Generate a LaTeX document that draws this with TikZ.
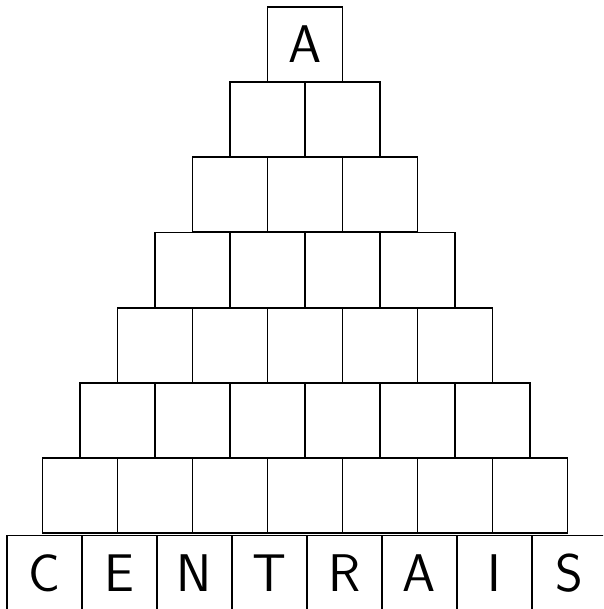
\documentclass[tikz,border=0pt]{standalone}
\usetikzlibrary{positioning}
\tikzset{
	brick/.style={draw, line width=1.8pt, minimum width=75pt, minimum height=75pt,
		inner sep=0pt, font=\sffamily\fontsize{53}{53}\selectfont},
}
\begin{document}
\begin{tikzpicture}[x=1pt,y=-1pt]
		\clip (0,0) rectangle (603,609);
		% top of the pyramid
		\node[brick] (b-1-1) at (305,44.5) {A};
		% empty rows
		\foreach \r in {2,...,7}{
			\foreach \c in {1,...,\r}{
				\node[brick] (b-\r-\c) at ({305+(\c-(\r+1)/2)*75},{44.5+(\r-1)*75.2}) {};
			}
		}
		% base row, its bottom runs off the page
		\foreach \letter [count=\c] in {C,E,N,T,R,A,I,S}{
			\node[brick] (b-8-\c) at ({307+(\c-4.5)*75},573) {\letter};
		}
	\end{tikzpicture}
\end{document}
